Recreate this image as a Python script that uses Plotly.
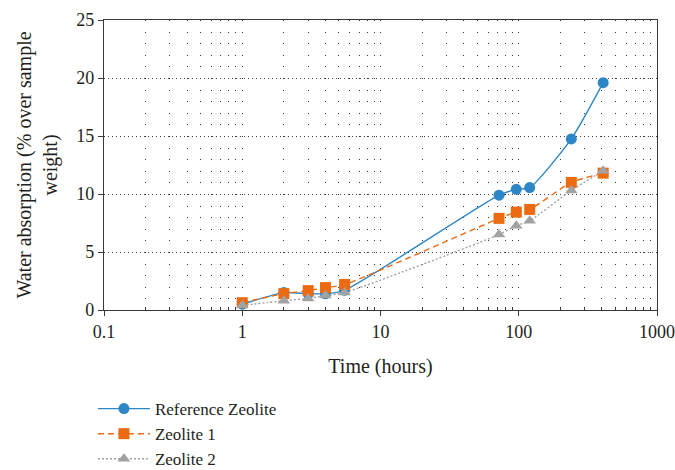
import plotly.graph_objects as go

# Sampling times (hours) and water absorption (% over sample weight)
time_h = [1, 2, 3, 4, 5.5, 72, 96, 120, 240, 408]
ref_zeolite = [0.5, 1.5, 1.4, 1.4, 1.7, 9.9, 10.4, 10.55, 14.75, 19.6]
zeolite_1 = [0.63, 1.41, 1.67, 1.93, 2.2, 7.9, 8.44, 8.67, 11.0, 11.8]
zeolite_2 = [0.4, 0.8, 1.0, 1.24, 1.5, 6.5, 7.26, 7.7, 10.3, 12.0]

series_names = ["Reference Zeolite", "Zeolite 1", "Zeolite 2"]

x_tickvals = [0.1, 1, 10, 100, 1000]
x_ticktext = ["0.1", "1", "10", "100", "1000"]
y_tickvals = [0, 5, 10, 15, 20, 25]

FONT = "Liberation Serif"
TEXT = "#231f20"
AXIS = "#3a3a3a"
TICK_SIZE = 18
TITLE_SIZE = 20

fig = go.Figure()

fig.add_trace(go.Scatter(
    x=time_h, y=ref_zeolite, name=series_names[0], mode="lines+markers",
    line=dict(color="#2d86c6", width=1.4, shape="spline", smoothing=0.6),
    marker=dict(symbol="circle", size=11, color="#2d86c6"),
))
fig.add_trace(go.Scatter(
    x=time_h, y=zeolite_1, name=series_names[1], mode="lines+markers",
    line=dict(color="#ec6a12", width=1.4, dash="6px,4px", shape="spline", smoothing=0.6),
    marker=dict(symbol="square", size=11, color="#ec6a12"),
))
fig.add_trace(go.Scatter(
    x=time_h, y=zeolite_2, name=series_names[2], mode="lines+markers",
    line=dict(color="#a2a2a2", width=1.4, dash="2px,2px", shape="spline", smoothing=0.6),
    marker=dict(symbol="triangle-up", size=11, color="#a2a2a2"),
))

# minor log positions (2..9 in every decade)
minor_vals = [m * 10 ** e for e in range(-1, 3) for m in range(2, 10)]

fig.update_xaxes(
    type="log", range=[-1, 3], automargin=False,
    tickmode="array", tickvals=x_tickvals, ticktext=x_ticktext,
    ticks="outside", ticklen=5, tickcolor=AXIS,
    showline=True, linecolor=AXIS, linewidth=1.2, mirror=True,
    showgrid=True, gridcolor="#333333", gridwidth=1, griddash="1px,10.6px",
    minor=dict(tickmode="array", tickvals=minor_vals, ticks="inside", ticklen=3,
               tickcolor=AXIS, showgrid=True, gridcolor="#333333", gridwidth=1,
               griddash="1px,10.6px"),
    title=dict(text="Time (hours)", font=dict(family=FONT, size=TITLE_SIZE, color=TEXT),
               standoff=18),
    tickfont=dict(family=FONT, size=TICK_SIZE, color=TEXT),
    zeroline=False,
)
fig.update_yaxes(
    range=[0, 25], automargin=False, tickmode="array", tickvals=y_tickvals,
    ticks="outside", ticklen=5, tickcolor=AXIS,
    showline=True, linecolor=AXIS, linewidth=1.2, mirror=True,
    showgrid=True, gridcolor="#444444", gridwidth=1, griddash="1px,3px",
    title=dict(text="Water absorption (% over sample<br>weight)",
               font=dict(family=FONT, size=TITLE_SIZE, color=TEXT), standoff=13),
    tickfont=dict(family=FONT, size=TICK_SIZE, color=TEXT),
    zeroline=False,
)

fig.update_layout(
    width=675, height=470,
    margin=dict(l=104, r=18, t=20, b=160, autoexpand=False),
    paper_bgcolor="white", plot_bgcolor="white",
    font=dict(family=FONT, size=TICK_SIZE, color=TEXT),
    showlegend=True,
    legend=dict(x=-0.02, y=0.168, xanchor="left", yanchor="top", yref="container",
                bgcolor="rgba(0,0,0,0)", tracegroupgap=0, itemwidth=52,
                font=dict(family=FONT, size=17, color=TEXT)),
)

fig.write_html("out.html")
